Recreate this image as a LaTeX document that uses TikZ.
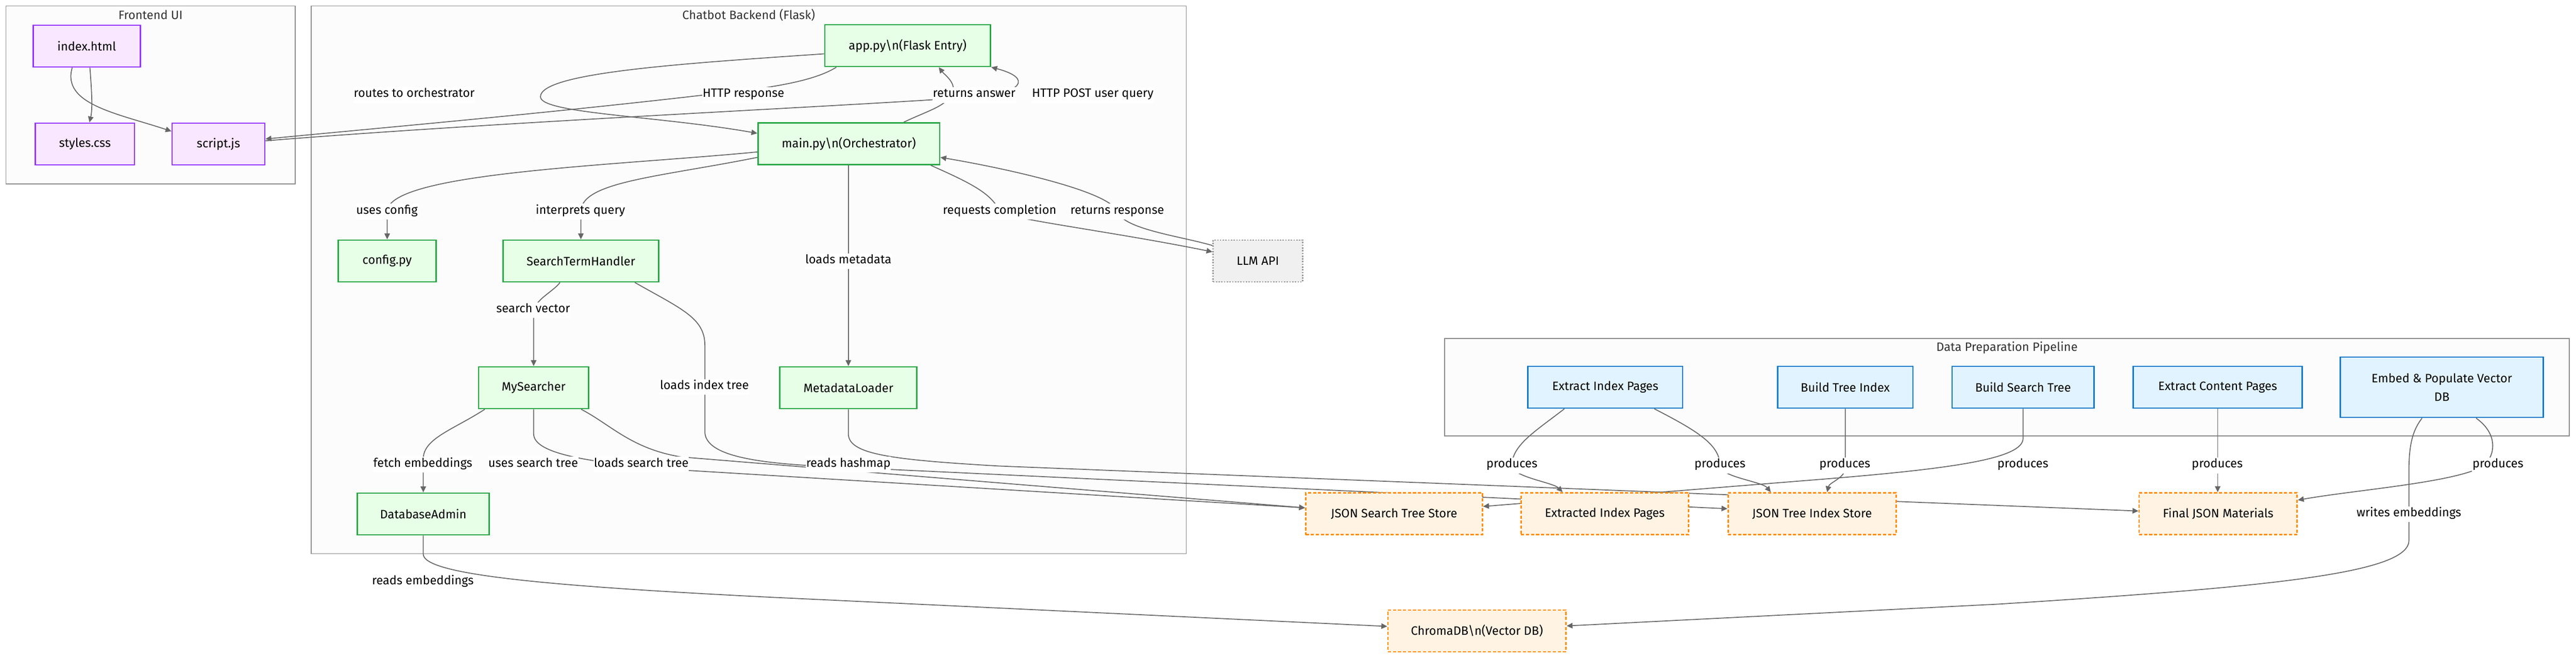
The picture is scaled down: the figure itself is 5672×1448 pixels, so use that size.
\documentclass[tikz,border=0pt]{standalone}
\usepackage{fontspec}
\setmainfont{Fira Sans}
\usetikzlibrary{arrows.meta,calc}
\definecolor{edgegray}{HTML}{666666}
\definecolor{feFill}{HTML}{F9E6FF}
\definecolor{feBorder}{HTML}{9333FF}
\definecolor{beFill}{HTML}{E6FFE6}
\definecolor{beBorder}{HTML}{28A745}
\definecolor{dpFill}{HTML}{E1F3FE}
\definecolor{dpBorder}{HTML}{0A7ACC}
\definecolor{stFill}{HTML}{FFF3E3}
\definecolor{stBorder}{HTML}{FF8C00}
\definecolor{exFill}{HTML}{F0F0F0}
\definecolor{exBorder}{HTML}{999999}
\definecolor{clFill}{HTML}{FCFCFC}
\definecolor{clBorder}{HTML}{8A8A8A}
\definecolor{titleGray}{HTML}{333333}
\newcommand{\dgfont}{\fontsize{13.4pt}{20.5pt}\selectfont}
\pgfdeclarelayer{clusterlayer}
\pgfdeclarelayer{edgelayer}
\pgfsetlayers{clusterlayer,edgelayer,main}
\begin{document}
\begin{tikzpicture}[x=0.5pt,y=-0.5pt,
  nbox/.style={rectangle, inner sep=0pt, minimum height=46pt, line width=1.5pt, font=\dgfont, align=center, text=black},
  febox/.style={nbox, fill=feFill, draw=feBorder},
  bebox/.style={nbox, fill=beFill, draw=beBorder},
  extbox/.style={nbox, fill=exFill, draw=exBorder, dash pattern=on 1.5pt off 1.5pt},
  dpbox/.style={nbox, fill=dpFill, draw=dpBorder},
  storebox/.style={nbox, fill=stFill, draw=stBorder, dash pattern=on 3.5pt off 2pt},
  elabel/.style={fill=white, inner xsep=0.5pt, inner ysep=4pt, text height=0.72em, text depth=0.22em, font=\dgfont},
  ctitle/.style={font=\dgfont, text=titleGray, inner sep=0pt},
  cluster/.style={fill=clFill, draw=clBorder, line width=1pt},
  conn/.style={draw=edgegray, line width=1pt, -{Triangle[length=6.5pt,width=6pt]}}
]
\useasboundingbox (0,0) rectangle (5672,1448);
\begin{pgfonlayer}{clusterlayer}
\fill[white] (0,0) rectangle (5672,1448);
\draw[cluster] (13,13) rectangle (650,405);
\draw[cluster] (685,13) rectangle (2612,1219);
\draw[cluster] (3181,745) rectangle (5657,960);
\end{pgfonlayer}
\node[ctitle] (tfe) at (331.5,33) {Frontend UI};
\node[ctitle] (tbe) at (1648.5,33) {Chatbot Backend (Flask)};
\node[ctitle] (tdp) at (4419,765) {Data Preparation Pipeline};

% nodes
\node[febox, minimum width=118pt] (index) at (191,101.5) {index.html};
\node[febox, minimum width=109pt] (styles) at (187,317) {styles.css};
\node[febox, minimum width=102pt] (script) at (481,317) {script.js};
\node[bebox, minimum width=182.5pt] (app) at (1998.5,100.5) {app.py\textbackslash n(Flask Entry)};
\node[bebox, minimum width=200pt] (main) at (1869,316.5) {main.py\textbackslash n(Orchestrator)};
\node[bebox, minimum width=107.5pt] (config) at (852.5,574.5) {config.py};
\node[bebox, minimum width=171pt] (sth) at (1279,574.5) {SearchTermHandler};
\node[extbox, minimum width=98.5pt] (llm) at (2769.5,574.5) {LLM API};
\node[bebox, minimum width=121pt] (mys) at (1175,853.5) {MySearcher};
\node[bebox, minimum width=151pt] (meta) at (1868,853.5) {MetadataLoader};
\node[bebox, minimum width=145pt] (dba) at (932,1131.5) {DatabaseAdmin};
\node[dpbox, minimum width=170.5pt] (eip) at (3534.5,852.5) {Extract Index Pages};
\node[dpbox, minimum width=149pt] (bti) at (4063,852.5) {Build Tree Index};
\node[dpbox, minimum width=156.5pt] (bst) at (4454.5,852.5) {Build Search Tree};
\node[dpbox, minimum width=186pt] (ecp) at (4883,852.5) {Extract Content Pages};
\node[dpbox, minimum width=223.5pt, minimum height=66.5pt] (emb) at (5376.5,852.5) {Embed \& Populate Vector\\DB};
\node[storebox, minimum width=194.5pt] (jsts) at (3069.5,1131) {JSON Search Tree Store};
\node[storebox, minimum width=184.5pt] (eipg) at (3533.5,1131) {Extracted Index Pages};
\node[storebox, minimum width=185pt] (jtis) at (3990,1131) {JSON Tree Index Store};
\node[storebox, minimum width=174pt] (fjm) at (4884,1131) {Final JSON Materials};
\node[storebox, minimum width=196pt] (chroma) at (3252,1389) {ChromaDB\textbackslash n(Vector DB)};

% edge labels
\node[elabel] (lroute) at (912,209) {routes to orchestrator};
\node[elabel] (lresp) at (1637,209) {HTTP response};
\node[elabel] (lans) at (2145,209) {returns answer};
\node[elabel] (lpost) at (2406,209) {HTTP POST user query};
\node[elabel] (lcfg) at (852,466) {uses config};
\node[elabel] (lint) at (1278,466) {interprets query};
\node[elabel] (lreq) at (2201,466) {requests completion};
\node[elabel] (lrr) at (2460,466) {returns response};
\node[elabel] (lmeta) at (1868,575) {loads metadata};
\node[elabel] (lsv) at (1174,683) {search vector};
\node[elabel] (lidx) at (1551,852) {loads index tree};
\node[elabel] (lfe) at (931,1023) {fetch embeddings};
\node[elabel] (lust) at (1174,1023) {uses search tree};
\node[elabel] (llst) at (1412,1023) {loads search tree};
\node[elabel] (lhash) at (1868,1023) {reads hashmap};
\node[elabel] (lre) at (931,1282) {reads embeddings};
\node[elabel] (lp1) at (3329,1025) {produces};
\node[elabel] (lp2) at (3787,1025) {produces};
\node[elabel] (lp3) at (4062,1025) {produces};
\node[elabel] (lp4) at (4454,1025) {produces};
\node[elabel] (lp5) at (4882,1025) {produces};
\node[elabel] (lp6) at (5500,1025) {produces};
\node[elabel] (lwe) at (5304,1132) {writes embeddings};

\begin{pgfonlayer}{edgelayer}
% frontend
\draw[conn] ($(index.south)+(7,0)$) .. controls (202,200) and (204,240) .. ($(styles.north)+(10,0)$);
\draw[conn] ($(index.south)+(-32,0)$) .. controls (135,230) and (260,250) .. ($(script.west)+(0,-28)$);
% app / main / script
\draw[conn] ($(app.west)+(0,18)$) .. controls (1500,140) and (1190,160) .. (1190,213) .. controls (1190,250) and (1450,255) .. ($(main.west)+(0,-23)$);
\draw[conn] ($(app.south west)+(27,0)$) .. controls (1790,180) and (1690,195) .. (1560,208) .. controls (1200,250) and (800,285) .. ($(script.east)+(0,-11)$);
\draw[conn] ($(main.north)+(121,0)$) .. controls (2040,245) and (2080,235) .. (2095,209) .. controls (2110,185) and (2080,165) .. ($(app.south)+(68.5,0)$);
\draw[conn] ($(script.east)+(0,-7)$) .. controls (1100,268) and (1900,232) .. (2150,213) .. controls (2250,205) and (2275,172) .. (app.south east);
% main outgoing
\draw[conn] ($(main.west)+(0,18)$) .. controls (1350,365) and (852.5,380) .. (852.5,466) -- (config.north);
\draw[conn] ($(main.west)+(0,30)$) .. controls (1450,390) and (1279,400) .. (1279,466) -- (sth.north);
\draw[conn] (main.south -| meta.north) -- (meta.north);
\draw[conn] ($(main.south east)+(-21,0)$) .. controls (2130,400) and (2185,425) .. (2201,466) .. controls (2220,482) and (2450,510) .. ($(llm.west)+(0,-20)$);
\draw[conn] ($(llm.west)+(0,-34)$) .. controls (2600,520) and (2475,505) .. (2460,466) .. controls (2445,420) and (2200,368) .. ($(main.east)+(0,30)$);
% searchers
\draw[conn] ($(sth.south)+(-46,0)$) .. controls (1215,645) and (1175,660) .. (1175,690) -- (mys.north);
\draw[conn] ($(sth.south)+(119,0)$) .. controls (1500,680) and (1552,700) .. (1552,760) -- (1552,950) .. controls (1552,1000) and (1650,1018) .. (1800,1026) -- ($(jtis.west)+(0,-11)$);
\draw[conn] (meta.south) -- (1868,955) .. controls (1868,1000) and (1960,1012) .. (2200,1026) -- ($(fjm.west)+(0,-6)$);
\draw[conn] ($(mys.south west)+(15,0)$) .. controls (1000,945) and (932,965) .. (932,1010) -- (dba.north);
\draw[conn] ($(mys.south east)+(-18,0)$) .. controls (1345,935) and (1390,988) .. (1500,1006) -- ($(jsts.west)+(0,-13)$);
\draw[conn] (mys.south) -- (1175,955) .. controls (1175,1000) and (1300,1020) .. (1520,1036) -- ($(jsts.west)+(0,-13)$);
\draw[conn] (dba.south) -- (932,1220) .. controls (932,1265) and (1200,1290) .. (1700,1315) -- ($(chroma.west)+(0,-10)$);
% data prep
\draw[conn] ($(eip.south)+(-90,0)$) .. controls (3380,950) and (3329,980) .. (3329,1025) .. controls (3329,1050) and (3420,1062) .. ($(eipg.north)+(-93,0)$);
\draw[conn] ($(eip.south)+(108,0)$) .. controls (3740,950) and (3787,980) .. (3787,1025) .. controls (3787,1050) and (3880,1060) .. ($(jtis.north)+(-91,0)$);
\draw[conn] (bti.south) -- (4063,1030) .. controls (4063,1052) and (4028,1062) .. ($(jtis.north)+(33,0)$);
\draw[conn] (bst.south) -- (4454.5,965) .. controls (4454.5,1010) and (4300,1032) .. (4000,1056) -- ($(jsts.east)+(0,-16)$);
\draw[conn] (ecp.south) -- (ecp.south |- fjm.north);
\draw[conn] ($(emb.south)+(75.5,0)$) .. controls (5500,955) and (5495,1000) .. (5470,1025) .. controls (5410,1062) and (5190,1078) .. ($(fjm.east)+(0,-30)$);
\draw[conn] ($(emb.south)+(-43.5,0)$) .. controls (5310,950) and (5304,985) .. (5304,1040) -- (5304,1190) .. controls (5304,1262) and (5000,1292) .. (4400,1330) -- ($(chroma.east)+(0,-11)$);
\end{pgfonlayer}
\end{tikzpicture}
\end{document}
